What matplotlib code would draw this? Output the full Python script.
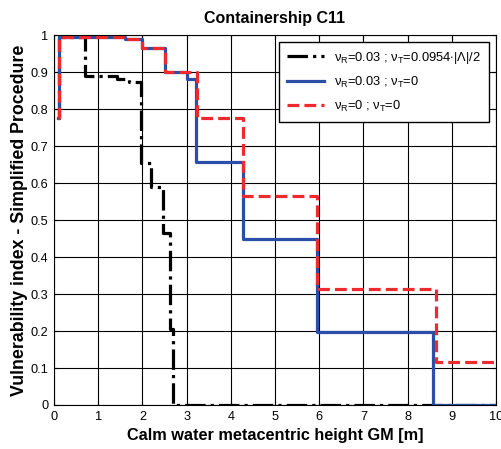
import matplotlib
matplotlib.use("Agg")
import matplotlib.pyplot as plt

plt.rcParams['font.family'] = ['Liberation Sans', 'DejaVu Sans']
plt.rcParams['mathtext.fontset'] = 'custom'
plt.rcParams['mathtext.rm'] = 'Liberation Sans'
plt.rcParams['mathtext.it'] = 'Liberation Sans'

# step curves: GM breakpoints [m] and vulnerability index levels (held until next breakpoint)
gm_black = [0.08, 0.1, 0.7, 1.42, 1.7, 1.97, 2.2, 2.47, 2.62, 2.69, 10]
vi_black = [0.775, 0.995, 0.888, 0.882, 0.874, 0.654, 0.59, 0.465, 0.205, 0.0, 0.0]

gm_blue = [0.08, 0.1, 1.6, 2.0, 2.5, 3.0, 3.2, 4.28, 5.95, 8.57, 10]
vi_blue = [0.775, 0.995, 0.99, 0.965, 0.9, 0.88, 0.657, 0.449, 0.197, 0.0, 0.0]

gm_red = [0.08, 0.1, 1.6, 2.0, 2.5, 3.23, 4.28, 5.95, 8.64, 10]
vi_red = [0.775, 0.995, 0.99, 0.965, 0.9, 0.775, 0.565, 0.313, 0.116, 0.116]

labels = [r'$\nu_{\mathregular{R}}$=0.03 ; $\nu_{\mathregular{T}}$=0.0954$\cdot$|$\Lambda$|/2',
          r'$\nu_{\mathregular{R}}$=0.03 ; $\nu_{\mathregular{T}}$=0',
          r'$\nu_{\mathregular{R}}$=0 ; $\nu_{\mathregular{T}}$=0']

fig = plt.figure(figsize=(5.01, 4.49), dpi=100)
ax = fig.add_axes([0.108, 0.098, 0.882, 0.824])

ax.step(gm_black, vi_black, where='post', color='black', lw=2.3, ls='-.', label=labels[0])
ax.step(gm_blue, vi_blue, where='post', color='#2b4fa6', lw=2.3, ls='-', label=labels[1])
ax.step(gm_red, vi_red, where='post', color='#ee2a2e', lw=2.3, ls='--', label=labels[2])

ax.set_xlim(0, 10)
ax.set_ylim(0, 1)
ax.set_xticks(range(0, 11))
ax.set_yticks([i / 10 for i in range(11)])
ax.set_yticklabels(['0'] + ['%.1f' % (i / 10) for i in range(1, 10)] + ['1'])
ax.grid(True, color='black', lw=0.8, ls='-')
ax.tick_params(direction='in', labelsize=9.2, top=True, right=True, length=3, pad=4)
for s in ax.spines.values():
    s.set_linewidth(0.8)

ax.set_xlabel('Calm water metacentric height GM [m]', fontsize=11.7, fontweight='bold', labelpad=4)
ax.set_ylabel('Vulnerability index - Simplified Procedure', fontsize=12.8, fontweight='bold', labelpad=2)
ax.set_title('Containership C11', fontsize=11.5, fontweight='bold', pad=9)

leg = ax.legend(loc='upper right', fontsize=9.3, frameon=True, fancybox=False,
                edgecolor='black', framealpha=1, handlelength=2.9, borderpad=0.6,
                labelspacing=0.7, borderaxespad=0, bbox_to_anchor=(0.984, 0.981))
leg.get_frame().set_linewidth(1.0)

fig.savefig('out.png', dpi=100)
